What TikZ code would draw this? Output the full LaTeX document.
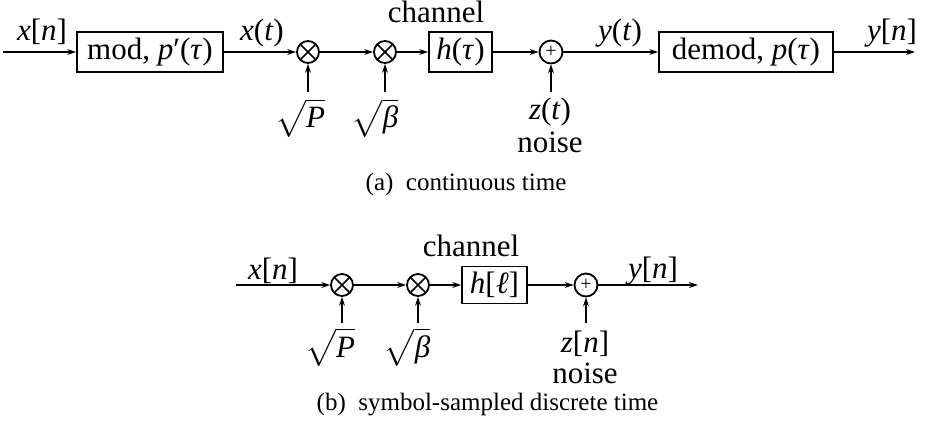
\documentclass[tikz,border=0pt]{standalone}
\usepackage{graphicx}
\usepackage{fontspec}
\setmainfont{Liberation Serif}
\usetikzlibrary{arrows.meta}
\newcommand{\rootsym}[1]{{\fontsize{10}{12}\selectfont\scalebox{3.1}{$\sqrt{\vphantom{(}\textit{#1}}$}}}

\begin{document}
\begin{tikzpicture}[x=1pt, y=-1pt, line width=1.8pt,
  every node/.style={font=\fontsize{31}{36}\selectfont, inner sep=0pt},
  blk/.style={draw, inner sep=4pt},
  mult/.style={draw, circle, minimum size=22pt,
    path picture={\draw[line width=1.6pt]
      (path picture bounding box.north west) -- (path picture bounding box.south east)
      (path picture bounding box.north east) -- (path picture bounding box.south west);}},
  summ/.style={draw, circle, minimum size=23pt, font=\fontsize{20}{20}\selectfont},
  sig/.style={-{Stealth[length=9pt, width=6pt]}},
  capt/.style={anchor=base, font=\fontsize{25}{30}\selectfont}]
  \useasboundingbox (0,0) rectangle (931,433);

  % (a) continuous time
  \coordinate (srcA) at (3,52);
  \node[blk, minimum width=146pt, minimum height=40pt] (mod) at (150,52) {mod, \textit{p}′(\textit{τ})};
  \node[mult] (mulPA) at (308,52) {};
  \node[mult] (mulBA) at (385,52) {};
  \node[blk, minimum width=63pt, minimum height=40pt] (chA) at (460.5,52) {\textit{h}(\textit{τ})};
  \node[summ] (addA) at (551,52) {+};
  \node[blk, minimum width=174pt, minimum height=40pt] (demod) at (746,52) {demod, \textit{p}(\textit{τ})};
  \coordinate (outA) at (915,52);
  \draw[sig] (srcA) -- (mod);
  \draw[sig] (mod) -- (mulPA);
  \draw[sig] (mulPA) -- (mulBA);
  \draw[sig] (mulBA) -- (chA);
  \draw[sig] (chA) -- (addA);
  \draw[sig] (addA) -- (demod);
  \draw[sig] (demod) -- (outA);

  \node[anchor=base] (xnA) at (42,41) {\textit{x}[\textit{n}]};
  \node[anchor=base] (xt) at (262,41) {\textit{x}(\textit{t})};
  \node[anchor=base] (chlabA) at (436,23) {channel};
  \node[anchor=base] (yt) at (620,41) {\textit{y}(\textit{t})};
  \node[anchor=base] (ynA) at (892,41) {\textit{y}[\textit{n}]};

  \node[anchor=base] (sqPA) at (300,128) {\rootsym{P}};
  \node[anchor=base] (sqBA) at (375,128) {\rootsym{β}};
  \node[anchor=base] (zt) at (550,120) {\textit{z}(\textit{t})};
  \node[anchor=base] (noiseA) at (550,152) {noise};
  \coordinate (pinPA) at (308,92);
  \coordinate (pinBA) at (385,92);
  \coordinate (pinZA) at (551,92);
  \draw[sig] (pinPA) -- (mulPA);
  \draw[sig] (pinBA) -- (mulBA);
  \draw[sig] (pinZA) -- (addA);

  \node[capt] (capA) at (466,190) {(a)\hspace{0.5em}continuous time};

  % (b) symbol-sampled discrete time
  \coordinate (srcB) at (236,285);
  \node[mult] (mulPB) at (342,285) {};
  \node[mult] (mulBB) at (418,285) {};
  \node[blk, minimum width=65pt, minimum height=37pt] (chB) at (494.5,285) {\textit{h}[\textit{ℓ}]};
  \node[summ] (addB) at (586,285) {+};
  \coordinate (outB) at (698,285);
  \draw[sig] (srcB) -- (mulPB);
  \draw[sig] (mulPB) -- (mulBB);
  \draw[sig] (mulBB) -- (chB);
  \draw[sig] (chB) -- (addB);
  \draw[sig] (addB) -- (outB);

  \node[anchor=base] (xnB) at (273,279) {\textit{x}[\textit{n}]};
  \node[anchor=base] (chlabB) at (471,256) {channel};
  \node[anchor=base] (ynB) at (653,278) {\textit{y}[\textit{n}]};

  \node[anchor=base] (sqPB) at (330,357) {\rootsym{P}};
  \node[anchor=base] (sqBB) at (407,357) {\rootsym{β}};
  \node[anchor=base] (zn) at (585,352) {\textit{z}[\textit{n}]};
  \node[anchor=base] (noiseB) at (585,383) {noise};
  \coordinate (pinPB) at (342,323);
  \coordinate (pinBB) at (418,323);
  \coordinate (pinZB) at (586,323);
  \draw[sig] (pinPB) -- (mulPB);
  \draw[sig] (pinBB) -- (mulBB);
  \draw[sig] (pinZB) -- (addB);

  \node[capt] (capB) at (487.5,410) {(b)\hspace{0.5em}symbol-sampled discrete time};
\end{tikzpicture}
\end{document}
